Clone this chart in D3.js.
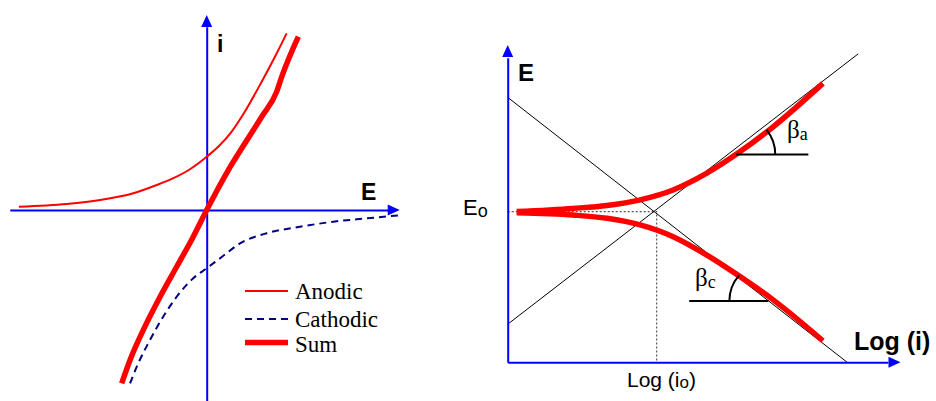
<!DOCTYPE html>
<html>
<head>
<meta charset="utf-8">
<script src="https://cdn.jsdelivr.net/npm/d3@7"></script>
<style>
  html, body { margin: 0; padding: 0; background: #fff; }
  svg { display: block; }
</style>
</head>
<body>
<svg id="chart" width="936" height="401"></svg>
<script>
// ---- Left panel: current i versus potential E ----
const anodicE = [-9.63, -7.18, -5.47, -3.76, -2.56, -1.71, -0.86, 0, 0.68, 1.28, 1.96, 2.82, 3.50, 4.10];
const anodicI = [0.17, 0.31, 0.51, 0.86, 1.28, 1.63, 2.09, 2.73, 3.33, 4.02, 5.05, 6.58, 7.86, 9.06];

const cathodicE = [-3.93, -3.51, -2.91, -2.23, -1.54, -0.69, 0, 0.68, 1.71, 3.08, 4.78, 6.49, 8.21, 10.0];
const cathodicI = [-8.89, -7.86, -6.67, -5.47, -4.45, -3.50, -2.99, -2.48, -1.71, -1.19, -0.86, -0.60, -0.43, -0.26];

const sumE = [-4.36, -3.93, -3.25, -2.39, -1.54, -0.69, 0, 1.11, 1.96, 2.82, 3.59, 3.85, 4.70];
const sumI = [-8.89, -7.69, -6.15, -4.45, -2.91, -1.37, 0, 2.05, 3.42, 4.78, 6.07, 6.84, 8.89];

const legendLabels = ["Anodic", "Cathodic", "Sum"];

// ---- Right panel: E versus Log(i) (Tafel plot) ----
const E0 = 4.75;        // equilibrium potential
const logI0 = 3.80;     // exchange current density (log)

const anodicBranchLogI = [0.23, 1.67, 2.53, 3.38, 4.22, 5.08, 5.93, 6.78, 8.04];
const anodicBranchE    = [4.75, 4.85, 4.94, 5.12, 5.43, 5.96, 6.64, 7.43, 8.79];
const cathodicBranchLogI = [0.23, 1.67, 2.53, 3.38, 4.22, 5.08, 5.93, 6.78, 8.04];
const cathodicBranchE    = [4.71, 4.64, 4.54, 4.33, 3.96, 3.38, 2.70, 1.96, 0.68];

// Tafel asymptotes (end points)
const anodicTafelLogI = [0, 8.94];
const anodicTafelE    = [1.20, 9.72];
const cathodicTafelLogI = [0, 8.66];
const cathodicTafelE    = [8.35, 0];

// slope markers: vertex on the curve and end of the horizontal reference
const betaA = { logI: 5.83, E: 6.55, toLogI: 7.67, label: "β", sub: "a" };
const betaC = { logI: 6.65, E: 1.93, toLogI: 4.63, label: "β", sub: "c" };

const svg = d3.select("#chart");
const BLUE = "#0000ff", RED = "#ff0000", NAVY = "#000080";

// ---------- left panel ----------
const xL = d3.scaleLinear().domain([-10, 10]).range([11.7, 401.7]);
const yL = d3.scaleLinear().domain([-10, 10]).range([405, 15]);

const left = svg.append("g");

function arrowHead(g, tip, dir, len, half) {
  // dir: "right" or "up"
  const [x, y] = tip;
  const pts = dir === "right"
    ? [[x, y], [x - len, y - half], [x - len, y + half]]
    : [[x, y], [x - half, y + len], [x + half, y + len]];
  g.append("path").attr("d", d3.line()(pts) + "Z").attr("fill", BLUE);
}

// axes (no ticks) through the origin
left.append("g")
  .attr("transform", `translate(0,${yL(0)})`)
  .call(d3.axisBottom(d3.scaleLinear().domain([-10.1, 9.4]).range([xL(-10.1), xL(9.4)]))
    .tickValues([]).tickSizeOuter(0))
  .call(g => g.select(".domain").attr("stroke", BLUE).attr("stroke-width", 2));
arrowHead(left, [xL(9.9), yL(0)], "right", 12, 5.5);

left.append("g")
  .attr("transform", `translate(${xL(0)},0)`)
  .call(d3.axisLeft(d3.scaleLinear().domain([-10, 9.4]).range([yL(-10), yL(9.4)]))
    .tickValues([]).tickSizeOuter(0))
  .call(g => g.select(".domain").attr("stroke", BLUE).attr("stroke-width", 2));
arrowHead(left, [xL(0), yL(10)], "up", 12, 5.5);

const lineL = d3.line().x(d => xL(d[0])).y(d => yL(d[1])).curve(d3.curveMonotoneX);

left.append("path")
  .attr("d", lineL(d3.zip(anodicE, anodicI)))
  .attr("fill", "none").attr("stroke", RED).attr("stroke-width", 2);

left.append("path")
  .attr("d", lineL(d3.zip(cathodicE, cathodicI)))
  .attr("fill", "none").attr("stroke", NAVY).attr("stroke-width", 2)
  .attr("stroke-dasharray", "7,5");

left.append("path")
  .attr("d", lineL(d3.zip(sumE, sumI)))
  .attr("fill", "none").attr("stroke", RED).attr("stroke-width", 5.5);

left.append("text").text("i")
  .attr("x", 217).attr("y", 52)
  .attr("font-family", "Liberation Sans, Arial, sans-serif")
  .attr("font-weight", "bold").attr("font-size", 23);

left.append("text").text("E")
  .attr("x", 361).attr("y", 200)
  .attr("font-family", "Liberation Sans, Arial, sans-serif")
  .attr("font-weight", "bold").attr("font-size", 23);

// legend
const legendStyles = [
  { stroke: RED, width: 2, dash: null },
  { stroke: NAVY, width: 2, dash: "7,5" },
  { stroke: RED, width: 5.5, dash: null }
];
const legendY = [291, 319, 342.5];
const legendBase = [298.5, 326.7, 352.3];
const legend = left.append("g");
legendLabels.forEach((lab, k) => {
  legend.append("line")
    .attr("x1", 245).attr("x2", 288)
    .attr("y1", legendY[k]).attr("y2", legendY[k])
    .attr("stroke", legendStyles[k].stroke)
    .attr("stroke-width", legendStyles[k].width)
    .attr("stroke-dasharray", legendStyles[k].dash);
  legend.append("text").text(lab)
    .attr("x", 295).attr("y", legendBase[k])
    .attr("font-family", "Liberation Serif, Times New Roman, serif")
    .attr("font-size", 23).attr("fill", "#000");
});

// ---------- right panel ----------
const xR = d3.scaleLinear().domain([0, 10]).range([507.7, 899.7]);
const yR = d3.scaleLinear().domain([0, 10]).range([362.3, 45]);
const right = svg.append("g");

// dotted guides to E0 and log(i0)
right.append("path")
  .attr("d", d3.line()([[xR(0), yR(E0)], [xR(logI0), yR(E0)], [xR(logI0), yR(0)]]))
  .attr("fill", "none").attr("stroke", "#555").attr("stroke-width", 1.2)
  .attr("stroke-dasharray", "2,2");

// Tafel asymptotes
const lineR = d3.line().x(d => xR(d[0])).y(d => yR(d[1]));
right.append("path").attr("d", lineR(d3.zip(anodicTafelLogI, anodicTafelE)))
  .attr("fill", "none").attr("stroke", "#000").attr("stroke-width", 1);
right.append("path").attr("d", lineR(d3.zip(cathodicTafelLogI, cathodicTafelE)))
  .attr("fill", "none").attr("stroke", "#000").attr("stroke-width", 1);

// axes
right.append("g")
  .attr("transform", `translate(0,${yR(0)})`)
  .call(d3.axisBottom(d3.scaleLinear().domain([0, 9.7]).range([xR(0), xR(9.7)]))
    .tickValues([]).tickSizeOuter(0))
  .call(g => g.select(".domain").attr("stroke", BLUE).attr("stroke-width", 2));
arrowHead(right, [xR(10.02), yR(0)], "right", 12, 5.5);

right.append("g")
  .attr("transform", `translate(${xR(0)},0)`)
  .call(d3.axisLeft(d3.scaleLinear().domain([0, 9.6]).range([yR(0), yR(9.6)]))
    .tickValues([]).tickSizeOuter(0))
  .call(g => g.select(".domain").attr("stroke", BLUE).attr("stroke-width", 2));
arrowHead(right, [xR(0), yR(10)], "up", 12, 5.5);

// polarization branches
const curveR = d3.line().x(d => xR(d[0])).y(d => yR(d[1])).curve(d3.curveMonotoneX);
right.append("path").attr("d", curveR(d3.zip(anodicBranchLogI, anodicBranchE)))
  .attr("fill", "none").attr("stroke", RED).attr("stroke-width", 5.5);
right.append("path").attr("d", curveR(d3.zip(cathodicBranchLogI, cathodicBranchE)))
  .attr("fill", "none").attr("stroke", RED).attr("stroke-width", 5.5);

// slope markers
function slopeMarker(m, side) {
  const vx = xR(m.logI), vy = yR(m.E);
  right.append("line")
    .attr("x1", vx).attr("y1", vy).attr("x2", xR(m.toLogI)).attr("y2", vy)
    .attr("stroke", "#000").attr("stroke-width", 2);
  const r = 39;
  // angles in d3.arc: 0 = up, clockwise
  const a = side === "right"
    ? { startAngle: Math.PI * 0.5 - 0.68, endAngle: Math.PI * 0.5 }
    : { startAngle: -Math.PI * 0.5, endAngle: -Math.PI * 0.5 + 0.72 };
  right.append("path")
    .attr("transform", `translate(${vx},${vy})`)
    .attr("d", d3.arc()({ innerRadius: r, outerRadius: r, ...a }))
    .attr("fill", "none").attr("stroke", "#000").attr("stroke-width", 2);
}
slopeMarker(betaA, "right");
slopeMarker(betaC, "left");

const serif = "Liberation Serif, Times New Roman, serif";
const sans = "Liberation Sans, Arial, sans-serif";

function betaLabel(m, x, y) {
  const t = right.append("text").attr("x", x).attr("y", y)
    .attr("font-family", serif).attr("font-size", 25);
  t.append("tspan").text(m.label);
  t.append("tspan").text(m.sub).attr("font-size", 18).attr("dy", 2);
}
betaLabel(betaA, 787, 138);
betaLabel(betaC, 695, 286);

// axis labels
right.append("text").text("E")
  .attr("x", 518).attr("y", 81)
  .attr("font-family", sans).attr("font-weight", "bold").attr("font-size", 24);

right.append("text").text("Log (i)")
  .attr("x", 854).attr("y", 350)
  .attr("font-family", sans).attr("font-weight", "bold").attr("font-size", 25);

const e0 = right.append("text")
  .attr("x", 463).attr("y", yR(E0) + 3)
  .attr("font-family", sans).attr("font-size", 22);
e0.append("tspan").text("E");
e0.append("tspan").text("o").attr("font-size", 18).attr("dy", 2.5);

const lio = right.append("text")
  .attr("x", 627).attr("y", 386.5)
  .attr("font-family", sans).attr("font-size", 21);
lio.append("tspan").text("Log (i");
lio.append("tspan").text("o").attr("font-size", 17).attr("dy", 1.5);
lio.append("tspan").text(")").attr("dy", -1.5);
</script>
</body>
</html>
